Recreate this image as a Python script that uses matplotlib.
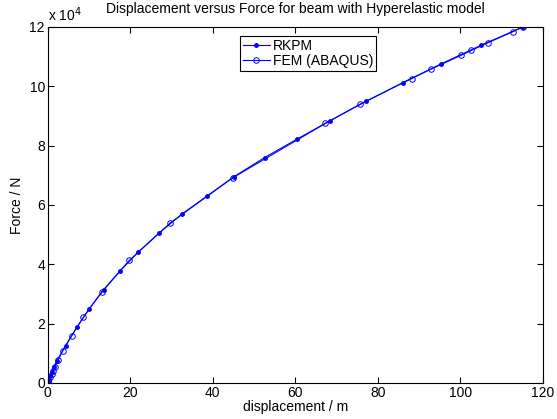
import numpy as np
import matplotlib.pyplot as plt

plt.rcParams['font.family'] = ['Liberation Sans', 'DejaVu Sans']

# RKPM results (displacement in m, force in 1e4 N)
rkpm_disp = [0, 0.25, 0.6, 1.0, 1.5, 2.2, 4.4, 7.1, 10.1, 13.6, 17.5, 22.0, 27.0,
             32.5, 38.7, 45.1, 52.6, 60.3, 68.4, 77.1, 86.0, 95.4, 105.1, 115.2]
rkpm_force = [0, 0.1, 0.22, 0.36, 0.55, 0.75, 1.26, 1.88, 2.51, 3.14, 3.77, 4.42, 5.05,
              5.69, 6.31, 6.95, 7.60, 8.21, 8.84, 9.49, 10.12, 10.76, 11.39, 12.0]

# FEM (ABAQUS) results
fem_disp = [0, 0.15, 0.56, 0.97, 1.36, 1.77, 2.57, 3.63, 5.81, 8.62, 13.15, 19.77, 29.75,
            44.9, 67.3, 75.6, 88.2, 92.9, 100.1, 102.7, 106.7, 112.7, 115.3]
fem_force = [0, 0.08, 0.19, 0.30, 0.41, 0.55, 0.78, 1.09, 1.60, 2.21, 3.08, 4.13, 5.40,
             6.92, 8.75, 9.39, 10.26, 10.58, 11.04, 11.21, 11.47, 11.84, 12.01]

fig = plt.figure(figsize=(5.57, 4.19), dpi=100)
ax = fig.add_axes([0.0856, 0.086, 0.889, 0.8496])

ax.plot(rkpm_disp, rkpm_force, '-', color='b', marker='.', markersize=5, lw=0.8, label='RKPM')
ax.plot(fem_disp, fem_force, '-', color='b', marker='o', markersize=4, mfc='none',
        mew=0.7, lw=0.8, label='FEM (ABAQUS)')

ax.set_xlim(0, 120)
ax.set_ylim(0, 12)
ax.set_xticks(np.arange(0, 121, 20))
ax.set_yticks(np.arange(0, 13, 2))
ax.tick_params(direction='in', top=True, right=True, length=4, labelsize=10, pad=2)
for s in ax.spines.values():
    s.set_linewidth(0.8)

ax.set_title('Displacement versus Force for beam with Hyperelastic model', fontsize=10, pad=10)
ax.set_xlabel('displacement / m', fontsize=10, labelpad=0)
ax.set_ylabel('Force / N', fontsize=10, labelpad=4)
ax.text(0.0, 1.008, r'x 10$^{4}$', transform=ax.transAxes, fontsize=10, va='bottom', ha='left')

leg = ax.legend(loc='upper left', bbox_to_anchor=(0.388, 0.975), fontsize=10, frameon=True,
                fancybox=False, edgecolor='black', framealpha=1, borderpad=0.2,
                handlelength=2.0, handletextpad=0.2, labelspacing=0.1, borderaxespad=0)
leg.get_frame().set_linewidth(0.8)

fig.savefig('out.png', dpi=100)
